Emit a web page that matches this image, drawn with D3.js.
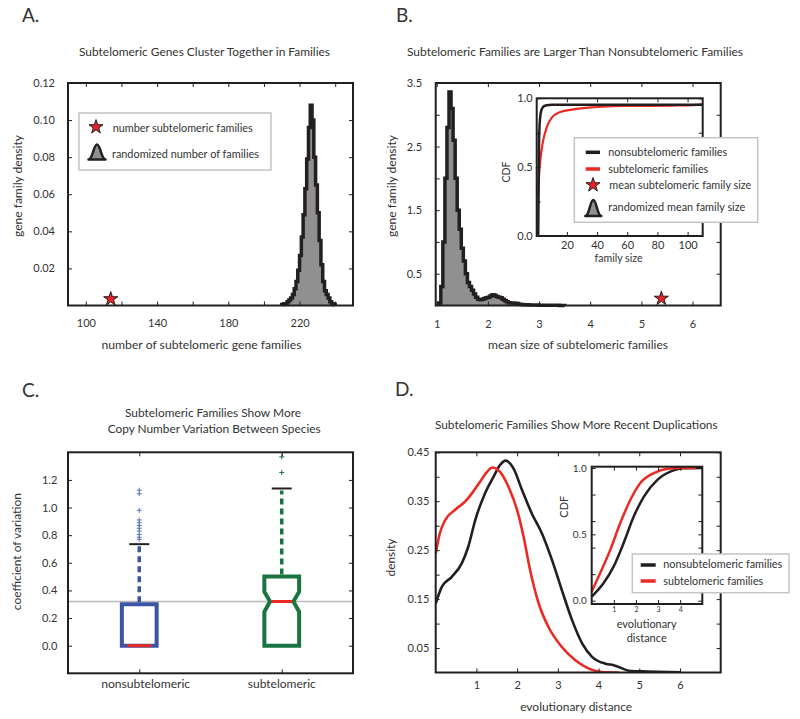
<!DOCTYPE html>
<html><head><meta charset="utf-8">
<script src="https://cdn.jsdelivr.net/npm/d3@7"></script>
<style>body{margin:0;background:#fff}</style>
</head><body><svg id="c" width="800" height="719"></svg>
<script>
// ---------------- DATA ----------------
// Panel A: randomized number of subtelomeric families (histogram, bin width 1)
const histA_edges = [210,211,212,213,214,215,216,217,218,219,220,221,222,223,224,225,226,227,228,229,230,231,232,233,234,235,236,237,238,239,240];
const histA_density = [0.0005,0.001,0.001,0.002,0.003,0.004,0.006,0.009,0.013,0.019,0.027,0.037,0.049,0.063,0.079,0.096,0.108,0.100,0.080,0.065,0.050,0.035,0.022,0.013,0.008,0.006,0.004,0.002,0.001,0.0005];
const starA = {x: 114, y: 0.0035};
const ticksA_x = [100,120,140,160,180,200,220,240];
const labelsA_x = [100,140,180,220];
const ticksA_y = [0.02,0.04,0.06,0.08,0.10,0.12];

// Panel B: randomized mean family size (histogram)
const histB_edges = [1.04,1.08,1.12,1.16,1.20,1.24,1.28,1.32,1.36,1.40,1.44,1.48,1.52,1.56,1.60,1.64,1.68,1.72,1.76,1.80,1.84,1.88,1.92,1.96,2.00,2.04,2.08,2.12,2.16,2.20,2.24,2.28,2.32,2.36,2.40,2.44,2.48,2.52,2.56,2.60,2.64,2.68,2.72,2.80,2.90,3.00,3.10,3.20,3.30,3.40,3.50];
const histB_density = [0.04,0.30,1.00,2.00,2.80,3.36,3.10,2.60,2.00,1.50,1.20,0.90,0.70,0.50,0.36,0.30,0.24,0.18,0.13,0.10,0.09,0.10,0.11,0.12,0.13,0.15,0.17,0.16,0.14,0.13,0.12,0.10,0.08,0.06,0.045,0.04,0.04,0.035,0.03,0.02,0.015,0.012,0.010,0.008,0.006,0.005,0.004,0.003,0.002,0.001];
const starB = {x: 5.39, y: 0.11};
const ticksB_x = [1,2,3,4,5,6];
const ticksB_y = [0.5,1.0,1.5,2.0,2.5,3.0,3.5];
const labelsB_y = [0.5,1.5,2.5,3.5];
// Panel B inset: CDF of family size
const cdfB_nonX = [1,1.3,1.6,2,2.5,3.3,4.5,6.7,10,110];
const cdfB_nonY = [0,0.40,0.70,0.82,0.88,0.92,0.94,0.95,0.953,0.953];
const cdfB_subX = [1,1.5,2.2,3.2,4.4,6.7,10,15.5,24.4,37.8,55.5,88.9,104,110];
const cdfB_subY = [0.30,0.42,0.53,0.62,0.70,0.79,0.86,0.90,0.92,0.935,0.944,0.947,0.95,0.958];
const ticksBi_x = [20,40,60,80,100];
const ticksBi_y = [0,0.25,0.5,0.75,1.0];
const labelsBi_y = [0,0.5,1.0];

// Panel C: coefficient of variation box plots
const boxCats = ["nonsubtelomeric","subtelomeric"];
const boxQ1 = [0, 0];
const boxMedian = [0, 0.32];
const boxQ3 = [0.30, 0.50];
const boxWhiskHi = [0.735, 1.138];
const boxNotchLo = [null, 0.246];
const boxNotchHi = [null, 0.39];
const outliersNon = [0.77,0.785,0.805,0.83,0.85,0.87,0.89,0.91,0.98,1.10,1.126];
const outliersSub = [1.254,1.367];
const refLineC = 0.32;
const ticksC_y = [0,0.2,0.4,0.6,0.8,1.0,1.2];

// Panel D: density of evolutionary distance
const densD_nonX = [0,0.15,0.39,0.64,0.8,0.97,1.21,1.42,1.58,1.72,1.91,2.12,2.36,2.61,2.86,3.1,3.35,3.6,3.84,4.17,4.37,4.79,5.2,6.0];
const densD_nonY = [0.141,0.175,0.195,0.223,0.257,0.311,0.366,0.40,0.424,0.433,0.417,0.373,0.325,0.284,0.229,0.168,0.107,0.059,0.032,0.018,0.015,0.003,0.002,0.0005];
const densD_subX = [0,0.1,0.23,0.47,0.72,0.89,1.09,1.26,1.39,1.58,1.79,2.0,2.16,2.32,2.53,2.77,3.1,3.43,3.76,4.09,4.5];
const densD_subY = [0.243,0.284,0.311,0.332,0.349,0.366,0.39,0.41,0.419,0.41,0.379,0.332,0.277,0.209,0.141,0.093,0.052,0.025,0.008,0.001,0];
const ticksD_x = [1,2,3,4,5,6];
const ticksD_y = [0.05,0.10,0.15,0.20,0.25,0.30,0.35,0.40,0.45];
const labelsD_y = [0.05,0.15,0.25,0.35,0.45];
// Panel D inset: CDF
const cdfD_nonX = [0,0.53,0.99,1.44,1.9,2.36,2.97,3.58,4.18,5.0];
const cdfD_nonY = [0.03,0.131,0.257,0.433,0.634,0.785,0.911,0.974,0.999,1.0];
const cdfD_subX = [0,0.38,0.84,1.29,1.75,2.2,2.81,3.42,4.0,4.7];
const cdfD_subY = [0.068,0.207,0.383,0.585,0.761,0.887,0.962,0.995,1.0,1.0];
const ticksDi_x = [1,2,3,4];
const ticksDi_y = [0,0.2,0.4,0.5,0.6,0.8,1.0];
const labelsDi_y = [0,0.5,1.0];

// ---------------- DRAWING ----------------
const FONT = 'Lato, "Noto Sans", sans-serif';
const INK = '#231f20', TXT = '#333333', RED = '#ec2a24', BLUE = '#3a55a4', BLUE2 = '#5a74bd', GREEN = '#1a7441', GRAY = '#909090', LEG = '#c4c4c4';
const svg = d3.select('#c').attr('font-family', FONT);

function txt(g, x, y, s, o = {}) {
  const t = g.append('text').attr('x', x).attr('y', y).text(s)
    .attr('font-size', o.fs || 11).attr('fill', TXT).attr('font-family', FONT)
    .attr('text-anchor', o.anchor || 'start');
  if (o.len) t.attr('textLength', o.len).attr('lengthAdjust', 'spacingAndGlyphs');
  if (o.rot) t.attr('transform', `rotate(-90,${x},${y})`);
  return t;
}

function axes(g, x, y, o) {
  const [xl, xr] = x.range(), [yb, yt] = y.range();
  const tl = o.tl || 4, fs = o.fs || 11;
  const xf = v => (o.xLab || o.xT).includes(v) ? (o.xFmt ? o.xFmt(v) : String(v)) : '';
  const yf = v => (o.yLab || o.yT).includes(v) ? (o.yFmt ? o.yFmt(v) : String(v)) : '';
  const style = s => { s.select('.domain').remove(); s.attr('font-family', FONT).attr('font-size', fs);
    s.selectAll('line').attr('stroke', INK).attr('stroke-width', 1);
    s.selectAll('text').attr('fill', TXT); };
  g.append('g').attr('transform', `translate(0,${yb})`)
    .call(d3.axisBottom(x).tickValues(o.xT).tickSize(-tl).tickPadding(o.xPad).tickFormat(o.xNoLab ? '' : xf)).call(style);
  g.append('g').attr('transform', `translate(0,${yt})`)
    .call(d3.axisTop(x).tickValues(o.xT).tickSize(-tl).tickFormat('')).call(style);
  g.append('g').attr('transform', `translate(${xl},0)`)
    .call(d3.axisLeft(y).tickValues(o.yT).tickSize(-tl).tickPadding(o.yPad).tickFormat(yf)).call(style);
  g.append('g').attr('transform', `translate(${xr},0)`)
    .call(d3.axisRight(y).tickValues(o.yT).tickSize(-tl).tickFormat('')).call(style);
  g.append('rect').attr('x', xl).attr('y', yt).attr('width', xr - xl).attr('height', yb - yt)
    .attr('fill', 'none').attr('stroke', INK).attr('stroke-width', o.sw || 2);
}

function stepHist(g, x, y, edges, vals) {
  const pts = [[edges[0], 0]];
  vals.forEach((v, i) => pts.push([edges[i], v]));
  pts.push([edges[edges.length - 1], 0]);
  const area = d3.area().x(d => x(d[0])).y0(y(0)).y1(d => y(d[1])).curve(d3.curveStepAfter);
  const line = d3.line().x(d => x(d[0])).y(d => y(d[1])).curve(d3.curveStepAfter);
  g.append('path').attr('d', area(pts)).attr('fill', GRAY);
  g.append('path').attr('d', line(pts)).attr('fill', 'none').attr('stroke', INK)
    .attr('stroke-width', 3.5).attr('stroke-linejoin', 'miter');
}

const star = d3.symbol().type(d3.symbolStar).size(62);
function drawStar(g, cx, cy) {
  g.append('path').attr('d', star()).attr('transform', `translate(${cx},${cy})`)
    .attr('fill', '#e52329').attr('stroke', INK).attr('stroke-width', 1);
}
function bell(g, cx, cy, w, h) {
  const p = d3.path();
  p.moveTo(cx - w / 2, cy + h / 2);
  p.bezierCurveTo(cx - w / 4, cy + h / 2, cx - w / 5, cy - h / 2, cx, cy - h / 2);
  p.bezierCurveTo(cx + w / 5, cy - h / 2, cx + w / 4, cy + h / 2, cx + w / 2, cy + h / 2);
  p.closePath();
  g.append('path').attr('d', p.toString()).attr('fill', GRAY).attr('stroke', INK)
    .attr('stroke-width', 2.5).attr('stroke-linejoin', 'round');
}
function legendBox(g, x, y, w, h) {
  g.append('rect').attr('x', x).attr('y', y).attr('width', w).attr('height', h)
    .attr('fill', '#fff').attr('stroke', LEG).attr('stroke-width', 1.5);
}
function curve(g, x, y, xs, ys, color, w) {
  const line = d3.line().x(d => x(d[0])).y(d => y(d[1])).curve(d3.curveMonotoneX);
  g.append('path').attr('d', line(xs.map((v, i) => [v, ys[i]]))).attr('fill', 'none')
    .attr('stroke', color).attr('stroke-width', w).attr('stroke-linecap', 'butt');
}

// Panel letters
[['A.', 22, 21.7], ['B.', 396, 21.7], ['C.', 22, 396.7], ['D.', 395, 395.5]]
  .forEach(d => txt(svg, d[1], d[2], d[0], {fs: 19}));

// ---------- Panel A ----------
{
  const g = svg.append('g');
  const x = d3.scaleLinear().domain([90, 250]).range([68, 353]);
  const y = d3.scaleLinear().domain([0, 0.12]).range([305.5, 83]);
  stepHist(g, x, y, histA_edges, histA_density);
  drawStar(g, x(starA.x), y(starA.y));
  axes(g, x, y, {xT: ticksA_x, xLab: labelsA_x, yT: ticksA_y, xPad: 14, yPad: 13, yFmt: d3.format('.2f')});
  legendBox(g, 79, 113, 192, 57);
  drawStar(g, 96, 127);
  txt(g, 112.7, 131.5, 'number subtelomeric families', {fs: 10.5, len: 140});
  bell(g, 97, 152, 17, 15);
  txt(g, 112, 158, 'randomized number of families', {fs: 10.5, len: 147});
  txt(g, 204.5, 56, 'Subtelomeric Genes Cluster Together in Families', {anchor: 'middle', len: 251});
  txt(g, 201.5, 349, 'number of subtelomeric gene families', {anchor: 'middle', len: 200});
  txt(g, 22, 186, 'gene family density', {anchor: 'middle', len: 102, rot: true});
}

// ---------- Panel B ----------
{
  const g = svg.append('g');
  const x = d3.scaleLinear().domain([0.98, 6.55]).range([435.7, 720.7]);
  const y = d3.scaleLinear().domain([0, 3.5]).range([305.5, 83]);
  stepHist(g, x, y, histB_edges, histB_density);
  drawStar(g, x(starB.x), y(starB.y));
  axes(g, x, y, {xT: ticksB_x, yT: ticksB_y, yLab: labelsB_y, xPad: 14.5, yPad: 13.7, yFmt: d3.format('.1f')});
  txt(g, 575, 56, 'Subtelomeric Families are Larger Than Nonsubtelomeric Families', {anchor: 'middle', len: 336});
  txt(g, 578, 349, 'mean size of subtelomeric families', {anchor: 'middle', len: 180});
  txt(g, 396, 186, 'gene family density', {anchor: 'middle', len: 102, rot: true});

  // inset
  const gi = svg.append('g');
  const xi = d3.scaleLinear().domain([0, 110]).range([536.7, 702.7]);
  const yi = d3.scaleLinear().domain([0, 1]).range([236, 98.3]);
  gi.append('rect').attr('x', 536.7).attr('y', 98.3).attr('width', 166).attr('height', 137.7).attr('fill', '#fff');
  curve(gi, xi, yi, cdfB_subX, cdfB_subY, RED, 2.2);
  curve(gi, xi, yi, cdfB_nonX, cdfB_nonY, INK, 2.5);
  axes(gi, xi, yi, {xT: ticksBi_x, yT: ticksBi_y, yLab: labelsBi_y, xPad: 5.5, yPad: 4, yFmt: d3.format('.1f')});
  txt(gi, 618.5, 262, 'family size', {anchor: 'middle', len: 48});
  txt(gi, 510, 172, 'CDF', {anchor: 'middle', rot: true, fs: 10.5});

  // legend
  legendBox(gi, 574.3, 137.7, 183.4, 84.6);
  gi.append('line').attr('x1', 585.7).attr('x2', 600).attr('y1', 152.3).attr('y2', 152.3).attr('stroke', INK).attr('stroke-width', 3.5);
  txt(gi, 608.3, 156, 'nonsubtelomeric families', {fs: 10.5, len: 119});
  gi.append('line').attr('x1', 585.7).attr('x2', 600).attr('y1', 169).attr('y2', 169).attr('stroke', RED).attr('stroke-width', 3.5);
  txt(gi, 608.3, 172.5, 'subtelomeric families', {fs: 10.5, len: 100});
  drawStar(gi, 593, 185);
  txt(gi, 609.3, 188.5, 'mean subtelomeric family size', {fs: 10.5, len: 142});
  bell(gi, 593.3, 208, 16, 16);
  txt(gi, 608.3, 211, 'randomized mean family size', {fs: 10.5, len: 137});
}

// ---------- Panel C ----------
{
  const g = svg.append('g');
  const x = d3.scaleLinear().domain([0.5, 2.5]).range([68, 353]);
  const y = d3.scaleLinear().domain([-0.2, 1.4]).range([673.3, 452.3]);
  g.append('line').attr('x1', 68).attr('x2', 353).attr('y1', y(refLineC)).attr('y2', y(refLineC))
    .attr('stroke', '#b8b8b8').attr('stroke-width', 1.3);
  const colors = [BLUE, GREEN], outl = [outliersNon, outliersSub], oc = [BLUE2, GREEN];
  const hw = 0.122, nin = 0.04, capw = 0.07, medw = [0.085, 0.072];
  boxCats.forEach((c, i) => {
    const cx = i + 1;
    g.append('line').attr('x1', x(cx)).attr('x2', x(cx)).attr('y1', y(boxQ3[i]) - 2).attr('y2', y(boxWhiskHi[i]) + 2)
      .attr('stroke', colors[i]).attr('stroke-width', 3.5).attr('stroke-dasharray', '6,4');
    g.append('line').attr('x1', x(cx - capw)).attr('x2', x(cx + capw)).attr('y1', y(boxWhiskHi[i])).attr('y2', y(boxWhiskHi[i]))
      .attr('stroke', INK).attr('stroke-width', 2);
    const p = d3.path();
    const xL = x(cx - hw), xR = x(cx + hw);
    p.moveTo(xL, y(boxQ1[i]));
    if (boxNotchLo[i] != null) {
      p.lineTo(xL, y(boxNotchLo[i])); p.lineTo(x(cx - hw + nin), y(boxMedian[i])); p.lineTo(xL, y(boxNotchHi[i]));
    }
    p.lineTo(xL, y(boxQ3[i])); p.lineTo(xR, y(boxQ3[i]));
    if (boxNotchLo[i] != null) {
      p.lineTo(xR, y(boxNotchHi[i])); p.lineTo(x(cx + hw - nin), y(boxMedian[i])); p.lineTo(xR, y(boxNotchLo[i]));
    }
    p.lineTo(xR, y(boxQ1[i])); p.closePath();
    g.append('path').attr('d', p.toString()).attr('fill', 'none').attr('stroke', colors[i]).attr('stroke-width', 4)
      .attr('stroke-linejoin', 'miter');
    g.append('line').attr('x1', x(cx - medw[i])).attr('x2', x(cx + medw[i])).attr('y1', y(boxMedian[i])).attr('y2', y(boxMedian[i]))
      .attr('stroke', RED).attr('stroke-width', 3);
    outl[i].forEach(v => {
      g.append('path').attr('d', 'M-2.5,0H2.5M0,-2.5V2.5').attr('transform', `translate(${x(cx)},${y(v)})`)
        .attr('stroke', oc[i]).attr('stroke-width', 1).attr('fill', 'none');
    });
  });
  axes(g, x, y, {xT: [1, 2], xNoLab: true, yT: ticksC_y, xPad: 10, yPad: 10.7, yFmt: d3.format('.1f')});
  txt(g, x(1) + 6.4, 688.3, boxCats[0], {anchor: 'middle', len: 89});
  txt(g, x(2), 688.3, boxCats[1], {anchor: 'middle', len: 68});
  txt(g, 213, 417, 'Subtelomeric Families Show More', {anchor: 'middle', len: 176});
  txt(g, 214.2, 432.5, 'Copy Number Variation Between Species', {anchor: 'middle', len: 213});
  txt(g, 21.5, 551.7, 'coefficient of variation', {anchor: 'middle', len: 117, rot: true});
}

// ---------- Panel D ----------
{
  const g = svg.append('g');
  const x = d3.scaleLinear().domain([0, 7]).range([435.7, 720.7]);
  const y = d3.scaleLinear().domain([0, 0.45]).range([672.5, 452.3]);
  const clip = g.append('clipPath').attr('id', 'clipD');
  clip.append('rect').attr('x', 435.7).attr('y', 452.3).attr('width', 285).attr('height', 220.2);
  const gc = g.append('g').attr('clip-path', 'url(#clipD)');
  curve(gc, x, y, densD_nonX, densD_nonY, INK, 2.6);
  curve(gc, x, y, densD_subX, densD_subY, RED, 2.6);
  axes(g, x, y, {xT: ticksD_x, yT: ticksD_y, yLab: labelsD_y, xPad: 9, yPad: 6.4, yFmt: d3.format('.2f')});
  txt(g, 576.3, 428.5, 'Subtelomeric Families Show More Recent Duplications', {anchor: 'middle', len: 282.7});
  txt(g, 576.2, 711, 'evolutionary distance', {anchor: 'middle', len: 112});
  txt(g, 394.5, 557.5, 'density', {anchor: 'middle', len: 38, rot: true});

  // inset
  const gi = svg.append('g');
  const xi = d3.scaleLinear().domain([0, 5]).range([591.7, 702.3]);
  const yi = d3.scaleLinear().domain([-0.025, 1.01]).range([604, 466.7]);
  gi.append('rect').attr('x', 591.7).attr('y', 466.7).attr('width', 110.6).attr('height', 137.3).attr('fill', '#fff');
  curve(gi, xi, yi, cdfD_nonX, cdfD_nonY, INK, 2.5);
  curve(gi, xi, yi, cdfD_subX, cdfD_subY, RED, 2.5);
  axes(gi, xi, yi, {xT: ticksDi_x, yT: ticksDi_y, yLab: labelsDi_y, xPad: 2.7, yPad: 5, fs: 10, yFmt: d3.format('.1f')});
  gi.selectAll('g').filter(function () { return d3.select(this).attr('transform') === 'translate(0,604)'; })
    .selectAll('text').attr('font-size', 7);
  txt(gi, 646.7, 628.3, 'evolutionary', {anchor: 'middle', len: 60});
  txt(gi, 646.7, 641.7, 'distance', {anchor: 'middle', len: 40});
  txt(gi, 567.7, 506.7, 'CDF', {anchor: 'middle', rot: true, fs: 11});

  legendBox(gi, 632.3, 554, 156.7, 38.7);
  gi.append('line').attr('x1', 640.7).attr('x2', 655.7).attr('y1', 565).attr('y2', 565).attr('stroke', INK).attr('stroke-width', 3.5);
  txt(gi, 663.3, 568.3, 'nonsubtelomeric families', {fs: 10.5, len: 119});
  gi.append('line').attr('x1', 640.7).attr('x2', 655.7).attr('y1', 581).attr('y2', 581).attr('stroke', RED).attr('stroke-width', 3.5);
  txt(gi, 663.3, 585, 'subtelomeric families', {fs: 10.5, len: 100});
}
</script></body></html>
